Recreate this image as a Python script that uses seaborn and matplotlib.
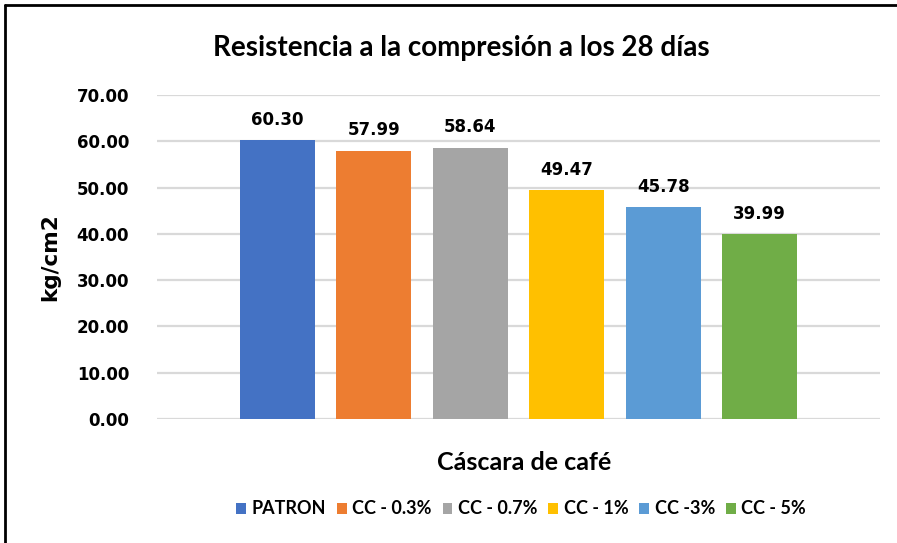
import pandas as pd
import matplotlib
matplotlib.use('Agg')
import matplotlib.pyplot as plt
import seaborn as sns
from matplotlib.lines import Line2D

# ── Data ──────────────────────────────────────────────────────────────────────
series = ['PATRON', 'CC - 0.3%', 'CC - 0.7%', 'CC - 1%', 'CC -3%', 'CC - 5%']
values = [60.30, 57.99, 58.64, 49.47, 45.78, 39.99]
colors = ['#4472C4', '#ED7D31', '#A5A5A5', '#FFC000', '#5B9BD5', '#70AD47']
yticks = [0, 10, 20, 30, 40, 50, 60, 70]

df = pd.DataFrame({'grupo': [''] * len(series), 'serie': series, 'valor': values})

NARROW = ['Lato', 'DejaVu Sans']
WIDE = ['DejaVu Sans']

sns.set_style('white')
plt.rcParams['font.family'] = WIDE
plt.rcParams['text.color'] = 'black'
plt.rcParams['ytick.color'] = 'black'

fig = plt.figure(figsize=(8.97, 5.43), dpi=100)
ax = fig.add_axes([157 / 897, 1 - 419 / 543, (880 - 157) / 897, (419 - 95) / 543])

sns.barplot(data=df, x='grupo', y='valor', hue='serie', palette=colors,
            width=0.8, gap=0.22, saturation=1, linewidth=0, ax=ax, legend=True)

ax.set_ylim(0, 70)
ax.set_yticks(yticks)
ax.set_yticklabels([f'{t:.2f}' for t in yticks], fontsize=12, fontweight='bold', color='black')
ax.tick_params(axis='y', length=0, pad=20)
ax.tick_params(axis='x', length=0, labelbottom=False)
ax.grid(axis='y', color='#D9D9D9', lw=1.6)
ax.set_axisbelow(True)
for s in ax.spines.values():
    s.set_visible(False)
ax.set_xlabel('')
ax.set_ylabel('kg/cm2', fontsize=15.5, fontweight='bold', labelpad=12, color='black')

for cont in ax.containers:
    ax.bar_label(cont, fmt='%.2f', padding=8, fontsize=12, fontweight='bold', color='black')

sns.move_legend(ax, 'center', bbox_to_anchor=(521 / 897, 1 - 509 / 543),
                bbox_transform=fig.transFigure, ncol=6, frameon=False, title=None,
                handlelength=0.55, handleheight=0.55, handletextpad=0.3,
                columnspacing=0.6, prop={'family': NARROW, 'size': 13, 'weight': 'bold'})

fig.text(461 / 897, 1 - 48 / 543, 'Resistencia a la compresión a los 28 días',
         ha='center', va='center', fontsize=20, fontweight='bold', family=NARROW)
fig.text(524 / 897, 1 - 462 / 543, 'Cáscara de café',
         ha='center', va='center', fontsize=18, fontweight='bold', family=NARROW)

# chart border (top and left edges visible in the screenshot)
fig.add_artist(Line2D([5 / 897, 1], [1 - 5 / 543, 1 - 5 / 543], color='black', lw=2,
                      transform=fig.transFigure))
fig.add_artist(Line2D([5 / 897, 5 / 897], [0, 1 - 5 / 543], color='black', lw=2,
                      transform=fig.transFigure))

fig.savefig('out.png', dpi=100)
